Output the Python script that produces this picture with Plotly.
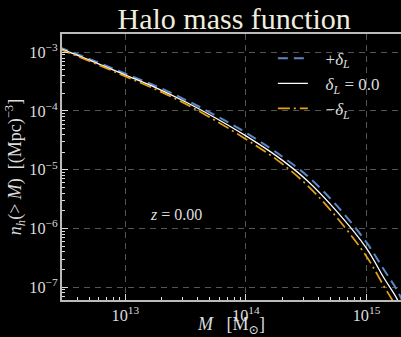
import plotly.graph_objects as go

# Cumulative halo mass function n_h(>M) at z = 0 for three long-wavelength overdensities
mass = [2.8e12, 5.6e12, 1.0e13, 1.8e13, 3.2e13, 5.6e13, 1.0e14, 1.8e14,
        3.2e14, 5.6e14, 1.0e15, 1.4e15, 1.8e15, 2.2e15]
n_plus = [1.23e-3, 7.08e-4, 4.32e-4, 2.66e-4, 1.53e-4, 8.41e-5, 4.27e-5, 1.95e-5,
          7.94e-6, 2.51e-6, 5.75e-7, 1.95e-7, 8.71e-8, 3.63e-8]
n_zero = [1.19e-3, 6.76e-4, 4.10e-4, 2.48e-4, 1.41e-4, 7.59e-5, 3.76e-5, 1.70e-5,
          6.61e-6, 2.00e-6, 4.57e-7, 1.41e-7, 6.17e-8, 2.51e-8]
n_minus = [1.15e-3, 6.46e-4, 3.89e-4, 2.32e-4, 1.30e-4, 6.84e-5, 3.31e-5, 1.48e-5,
           5.50e-6, 1.58e-6, 3.31e-7, 1.02e-7, 4.27e-8, 1.78e-8]

series_names = ["+<i>δ<sub>L</sub></i>", "<i>δ<sub>L</sub></i> = 0.0", "−<i>δ<sub>L</sub></i>"]
redshift_label = "<i>z</i> = 0.00"

SERIF = "Liberation Serif, DejaVu Serif, serif"
TXT = "#dddddd"
PAD = "&nbsp;&nbsp;&nbsp;"

fig = go.Figure()
fig.add_trace(go.Scatter(x=mass, y=n_plus, mode="lines", name=PAD + series_names[0],
                         line=dict(color="#5b86c4", width=2, dash="10px,6px", shape="spline")))
fig.add_trace(go.Scatter(x=mass, y=n_zero, mode="lines", name=PAD + series_names[1],
                         line=dict(color="#ffffff", width=1.3, shape="spline")))
fig.add_trace(go.Scatter(x=mass, y=n_minus, mode="lines", name=PAD + series_names[2],
                         line=dict(color="#e8a114", width=1.7, dash="12px,4px,2px,4px", shape="spline")))

fig.add_annotation(x=13.42, y=-5.76, xref="x", yref="y", text=redshift_label,
                   showarrow=False, font=dict(family=SERIF, size=16, color=TXT))

axis_common = dict(
    type="log", showgrid=True, gridcolor="#555555", griddash="6px,5px", gridwidth=1,
    zeroline=False, showline=True, linecolor="#bbbbbb", linewidth=1.5,
    ticks="inside", ticklen=6, tickwidth=1, tickcolor="#dddddd",
    dtick=1, exponentformat="power",
    tickfont=dict(family=SERIF, size=13, color=TXT),
    minor=dict(ticks="inside", ticklen=3, tickcolor="#dddddd", dtick="D1", showgrid=False),
)

fig.update_layout(
    width=401, height=337,
    margin=dict(l=62, r=0, t=34, b=37),
    paper_bgcolor="black", plot_bgcolor="black",
    title=dict(text="Halo mass function", x=0.584, xanchor="center", y=0.975, yanchor="top",
               font=dict(family=SERIF, size=30, color="#efeedd")),
    xaxis=dict(axis_common, range=[12.475, 15.286], mirror=True, automargin=False,
               title=dict(text="<i>M</i>   [M<sub>⊙</sub>]", standoff=2,
                          font=dict(family=SERIF, size=18, color=TXT))),
    yaxis=dict(axis_common, range=[-7.221, -2.688], automargin=False,
               title=dict(text="<i>n<sub>h</sub></i>(&gt; <i>M</i>)  [(Mpc)<sup>−3</sup>]", standoff=3,
                          font=dict(family=SERIF, size=18, color=TXT))),
    legend=dict(x=0.622, y=0.975, xanchor="left", yanchor="top", bgcolor="rgba(0,0,0,0)",
                font=dict(family=SERIF, size=17, color=TXT)),
    showlegend=True,
)

fig.write_html("out.html")
